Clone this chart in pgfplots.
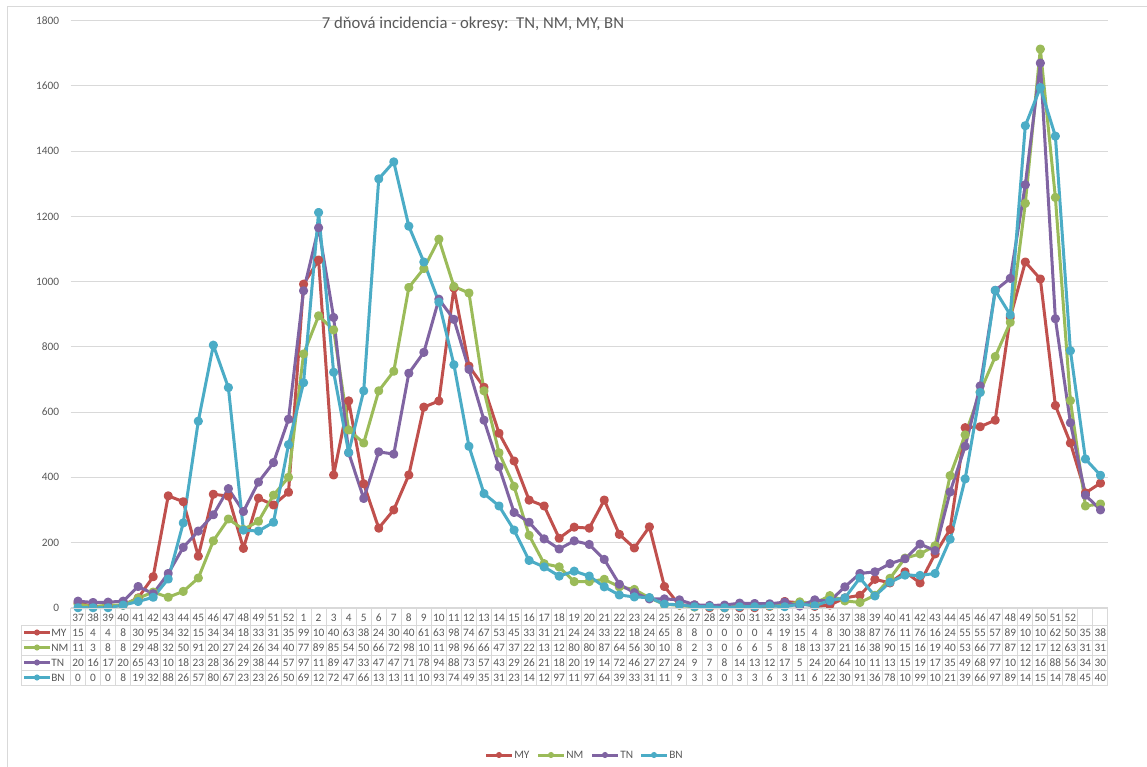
\documentclass[border=0pt]{standalone}
\usepackage{pgfplots}
\pgfplotsset{compat=1.18}
\usepackage{pgfplotstable}
\usepackage{fontspec}
\setmainfont{Carlito}
\definecolor{cMY}{HTML}{C0504D}
\definecolor{cNM}{HTML}{9BBB59}
\definecolor{cTN}{HTML}{8064A2}
\definecolor{cBN}{HTML}{4BACC6}
\definecolor{txt}{HTML}{595959}
\definecolor{grd}{HTML}{D9D9D9}

\pgfplotstableread{
idx MY NM TN BN
0 15 11 20 0
1 4 3 16 0
2 4 8 17 0
3 8 8 20 8
4 30 29 65 19
5 95 48 43 32
6 343 32 105 88
7 325 50 185 260
8 158 91 235 572
9 348 205 285 805
10 342 272 365 675
11 182 240 295 238
12 336 265 385 235
13 315 345 445 262
14 354 400 578 500
15 992 778 972 690
16 1066 895 1165 1212
17 407 852 890 722
18 634 545 475 476
19 380 505 335 665
20 244 665 478 1315
21 300 725 471 1367
22 407 982 719 1170
23 615 1040 783 1060
24 634 1130 946 937
25 980 985 884 745
26 741 965 731 495
27 676 665 575 350
28 535 475 432 312
29 450 372 292 238
30 330 222 262 145
31 312 135 211 125
32 213 125 180 97
33 247 80 205 112
34 244 80 194 97
35 330 87 148 64
36 225 64 72 39
37 183 56 46 33
38 248 30 27 31
39 65 10 27 11
40 8 8 24 9
41 8 2 9 3
42 0 3 7 3
43 0 0 8 0
44 0 6 14 3
45 0 6 13 3
46 4 5 12 6
47 19 8 17 3
48 15 18 5 11
49 4 13 24 6
50 8 37 20 22
51 30 21 64 30
52 38 16 105 91
53 87 38 110 36
54 76 90 135 78
55 110 152 150 100
56 76 165 195 99
57 165 190 175 105
58 240 405 355 210
59 552 530 495 395
60 555 662 680 660
61 575 770 973 973
62 890 875 1010 898
63 1060 1240 1297 1478
64 1008 1713 1670 1595
65 620 1258 886 1446
66 505 635 567 788
67 352 312 345 456
68 382 318 300 406
}\data

\newcommand\smallf{\fontsize{8.5}{10}\selectfont}

\begin{document}
\begin{tikzpicture}
\begin{scope}[x=0.75pt,y=-0.75pt]
\path[use as bounding box] (0,0) rectangle (1147,767);
\fill[white] (0,0) rectangle (1147,767);
\draw[grd, line width=0.75pt] (7,767) -- (7,7) -- (1147,7);
\end{scope}

\begin{axis}[at={(52.875pt,-455.775pt)}, anchor=south west,
  scale only axis, width=778.125pt, height=440.25pt,
  xmin=-0.5, xmax=68.5, ymin=0, ymax=1800,
  xtick=\empty, ytick={0,200,...,1800},
  ymajorgrids, grid style={grd, line width=0.75pt},
  axis line style={draw=none}, major tick length=0pt,
  yticklabel style={font=\smallf, text=txt, xshift=-5pt},
  /pgf/number format/assume math mode=true,
  /pgf/number format/1000 sep={},
  clip=false,
  every axis plot/.append style={line width=2.25pt, line join=round, mark=*, mark size=2.3pt}]
\addplot[cMY, mark options={fill=cMY, draw=cMY}] table[x=idx,y=MY]{\data};
\addplot[cNM, mark options={fill=cNM, draw=cNM}] table[x=idx,y=NM]{\data};
\addplot[cTN, mark options={fill=cTN, draw=cTN}] table[x=idx,y=TN]{\data};
\addplot[cBN, mark options={fill=cBN, draw=cBN}] table[x=idx,y=BN]{\data};
\end{axis}

\begin{scope}[x=0.75pt,y=-0.75pt]
% title
\node[font=\fontsize{12.5}{14}\selectfont, text=txt] at (473,24) {7 dňová incidencia - okresy:\ \ TN, NM, MY, BN};
% table grid
\foreach \j in {0,...,69} \draw[grd, line width=0.75pt] ({70.5+\j*15.036},608) -- ({70.5+\j*15.036},685);
\draw[grd, line width=0.75pt] (21,625) -- (21,685);
\draw[grd, line width=0.75pt] (70.5,608) -- (1108,608);
\foreach \yy in {625,640,655,670,685} \draw[grd, line width=0.75pt] (21,\yy) -- (1108,\yy);
% header
\foreach \w [count=\c from 0] in {37,38,39,40,41,42,43,44,45,46,47,48,49,51,52,1,2,3,4,5,6,7,8,9,10,11,12,13,14,15,16,17,18,19,20,21,22,23,24,25,26,27,28,29,30,31,32,33,34,35,36,37,38,39,40,41,42,43,44,45,46,47,48,49,50,51,52}
  \node[font=\smallf, text=txt, inner sep=0pt] at ({70.5+(\c+0.5)*15.036},617.5) {\w};
% rows
\foreach \s/\yy in {MY/632.5, NM/647.5, TN/662.5, BN/677.5} {
  \foreach \i in {0,...,68} {
    \pgfplotstablegetelem{\i}{\s}\of\data
    \pgfmathtruncatemacro\d{\pgfplotsretval>999.5 ? \pgfplotsretval/100+0.001 : (\pgfplotsretval>99.5 ? \pgfplotsretval/10+0.001 : \pgfplotsretval)}
    \node[font=\smallf, text=txt, inner sep=0pt] at ({70.5+(\i+0.5)*15.036},\yy) {\d};
  }
  \draw[color=c\s, line width=2.25pt] (24,\yy) -- (50,\yy);
  \fill[color=c\s] (37,\yy) circle (2.3pt);
  \node[font=\smallf, text=txt, anchor=west, inner sep=0pt] at (51,\yy) {\s};
}
% legend
\foreach \s/\xa in {MY/486, NM/538, TN/592, BN/641} {
  \draw[color=c\s, line width=2.25pt] (\xa,755) -- ({\xa+26},755);
  \fill[color=c\s] ({\xa+13},755) circle (2.3pt);
  \node[font=\smallf, text=txt, anchor=west, inner sep=0pt] at ({\xa+28},755) {\s};
}
\end{scope}
\end{tikzpicture}
\end{document}
